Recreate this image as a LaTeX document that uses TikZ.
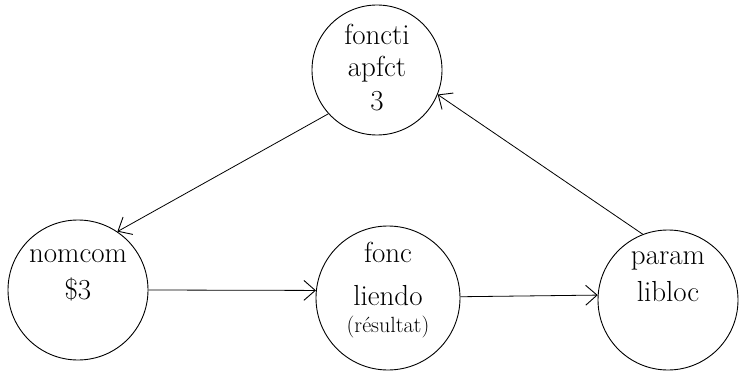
\documentclass[tikz,border=0pt]{standalone}
\usepackage{fontspec}
\usepackage{tikz}
\usetikzlibrary{arrows.meta,positioning}
\tikzset{
  bubble/.style={
    draw, circle, line width=0.9pt, align=center, inner sep=0pt,
    font=\fontsize{29}{37}\selectfont
  },
  flowarr/.style={
    -{Straight Barb[length=4mm,width=7mm,line width=0.9pt]},
    line width=0.8pt
  }
}
% text kept inside the circle without resizing it
\newcommand{\bubbletext}[2][0pt]{\smash{\raisebox{#1}{\begin{tabular}{@{}c@{}}#2\end{tabular}}}}
\begin{document}
\begin{tikzpicture}[x=1pt,y=1pt]
    \useasboundingbox (0,0) rectangle (739,378);
    \node[bubble, minimum size=130pt] (foncti) at (377,308) {\bubbletext[-6pt]{foncti\\[-5pt]apfct\\[-3pt]3}};
    \node[bubble, minimum size=140pt] (nomcom) at (78,88) {\bubbletext[10pt]{nomcom\\\$3}};
    \node[bubble, minimum size=144pt] (liendo) at (388,80) {\bubbletext[2pt]{fonc\\[6pt]liendo\\[-10pt]{\fontsize{22}{26}\selectfont(résultat)}}};
    \node[bubble, minimum size=140pt] (libloc) at (668,78) {\bubbletext[18pt]{param\\libloc}};

    \draw[flowarr] (foncti.222) -- (nomcom.56);
    \draw[flowarr] (nomcom.east) -- (liendo.174);
    \draw[flowarr] (liendo.1) -- (libloc.176);
    \draw[flowarr] (libloc.111) -- (foncti.-22);
\end{tikzpicture}
\end{document}
